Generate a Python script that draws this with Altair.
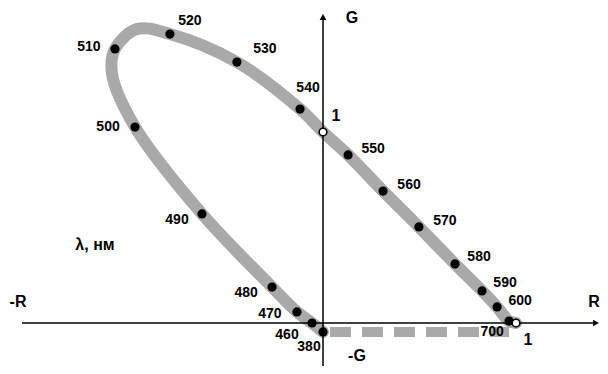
import altair as alt
import pandas as pd

# Spectral locus points (wavelength, r, g)
wavelengths = [380, 460, 470, 480, 490, 500, 510, 520, 530, 540, 550, 560, 570, 580, 590, 600, 700]
r_vals = [0.0, -0.057, -0.135, -0.264, -0.627, -0.974, -1.078, -0.793, -0.446, -0.119,
          0.130, 0.311, 0.497, 0.684, 0.824, 0.902, 0.964]
g_vals = [-0.047, 0.0, 0.058, 0.188, 0.571, 1.026, 1.435, 1.513, 1.366, 1.120,
          0.880, 0.691, 0.503, 0.309, 0.168, 0.084, 0.010]

# Path of the grey band along the locus (including bends and unit points)
band_r = [0.0, -0.057, -0.135, -0.264, -0.627, -0.974, -1.093, -1.078, -0.964, -0.793,
          -0.446, -0.119, 0.0, 0.130, 0.311, 0.497, 0.684, 0.824, 0.902, 0.964, 1.0]
band_g = [-0.047, 0.0, 0.058, 0.188, 0.571, 1.026, 1.304, 1.435, 1.539, 1.513,
          1.366, 1.120, 1.0, 0.880, 0.691, 0.503, 0.309, 0.168, 0.084, 0.010, 0.0]

# Purple (dashed) line
purple_r = [0.0, 0.964]
purple_g = [-0.047, -0.047]

# Unit points (open circles)
unit_r = [0.0, 1.0]
unit_g = [1.0, 0.0]

# Label offsets from dot, in pixels (dx, dy)
label_dx = [-14, -25, -27, -26, -25, -27, -26, 20, 28, 8, 25, 26, 26, 24, 23, 23, -17]
label_dy = [15, 12, 2, 6, 6, 0, -2, -13, -13, -21, -6, -6, -6, -7, -8, -6, 11]

KX, KY = 193.0, 191.0
W, H = 592, 358
x_dom = [(8 - 323) / KX, (8 + W - 323) / KX]
y_dom = [(323 - 8 - H) / KY, (323 - 8) / KY]
xs = alt.Scale(domain=x_dom, nice=False, zero=False)
ys = alt.Scale(domain=y_dom, nice=False, zero=False)

band_df = pd.DataFrame({"i": range(len(band_r)), "r": band_r, "g": band_g})
dots_df = pd.DataFrame({"wl": wavelengths, "r": r_vals, "g": g_vals})
purple_df = pd.DataFrame({"i": [0, 1], "r": purple_r, "g": purple_g})
unit_df = pd.DataFrame({"r": unit_r, "g": unit_g})
labels_df = pd.DataFrame({
    "txt": [str(w) for w in wavelengths],
    "r": [r + dx / KX for r, dx in zip(r_vals, label_dx)],
    "g": [g - dy / KY for g, dy in zip(g_vals, label_dy)],
})

def px(x, y):
    return (x - 323) / KX, (323 - y) / KY

ann_txt = ["G", "R", "-R", "-G", "1", "1", "λ, нм"]
ann_pos = [px(352, 18), px(594, 302), px(18, 302), px(357, 356), px(336, 116), px(528, 340), px(95, 245)]
ann_df = pd.DataFrame({"txt": ann_txt, "r": [p[0] for p in ann_pos], "g": [p[1] for p in ann_pos]})

axes_df = pd.DataFrame({
    "r1": [px(22, 0)[0], 0.0],
    "r2": [px(596, 0)[0], 0.0],
    "g1": [0.0, px(0, 366)[1]],
    "g2": [0.0, px(0, 17)[1]],
})
arrow_df = pd.DataFrame({
    "r": [px(596, 0)[0], 0.0],
    "g": [0.0, px(0, 17)[1]],
    "shape": ["triangle-right", "triangle-up"],
})

X = lambda: alt.X("r:Q", scale=xs, axis=None)
Y = lambda: alt.Y("g:Q", scale=ys, axis=None)

FONT = "Liberation Sans"
GREY = "#a9a9a9"

axes = alt.Chart(axes_df).mark_rule(color="black", strokeWidth=1.5).encode(
    x=alt.X("r1:Q", scale=xs, axis=None), x2="r2:Q",
    y=alt.Y("g1:Q", scale=ys, axis=None), y2="g2:Q",
)
arrows = alt.Chart(arrow_df).mark_point(filled=True, color="black", size=45, opacity=1).encode(
    x=X(), y=Y(), shape=alt.Shape("shape:N", scale=None),
)
band = alt.Chart(band_df).mark_line(
    color=GREY, strokeWidth=12, interpolate="catmull-rom", strokeCap="round", strokeJoin="round"
).encode(x=X(), y=Y(), order="i:Q")
purple = alt.Chart(purple_df).mark_line(
    color=GREY, strokeWidth=10, strokeDash=[21, 11], strokeDashOffset=25, strokeCap="butt"
).encode(x=X(), y=Y(), order="i:Q")
dots = alt.Chart(dots_df).mark_circle(color="black", size=85, opacity=1).encode(x=X(), y=Y())
units = alt.Chart(unit_df).mark_point(
    shape="circle", filled=True, fill="white", stroke="black", strokeWidth=1.5, size=60, opacity=1
).encode(x=X(), y=Y())
labels = alt.Chart(labels_df).mark_text(
    font=FONT, fontSize=14, fontWeight="bold", color="black", align="center", baseline="middle"
).encode(x=X(), y=Y(), text="txt:N")
ann = alt.Chart(ann_df).mark_text(
    font=FONT, fontSize=16, fontWeight="bold", color="black", align="center", baseline="middle"
).encode(x=X(), y=Y(), text="txt:N")

chart = alt.layer(purple, band, axes, arrows, dots, units, labels, ann).properties(
    width=W, height=H, padding=0, autosize=alt.AutoSizeParams(type="none")
).configure_view(stroke=None)

chart.save("out.html", embed_options={"renderer": "svg", "actions": False})
